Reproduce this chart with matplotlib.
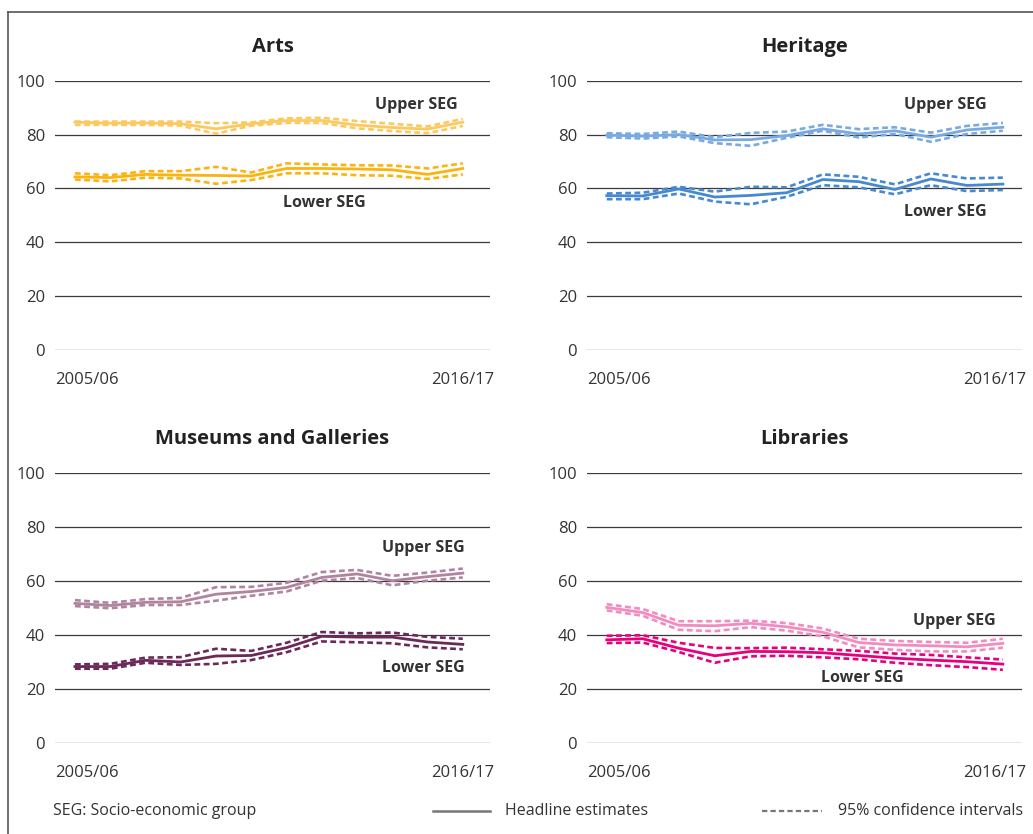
import matplotlib.pyplot as plt
import numpy as np

plt.rcParams['font.family'] = ['Open Sans', 'DejaVu Sans']

years = ['2005/06', '2006/07', '2007/08', '2008/09', '2009/10', '2010/11',
         '2011/12', '2012/13', '2013/14', '2014/15', '2015/16', '2016/17']

# Arts
arts_up = [84.6, 84.2, 84.3, 84.0, 82.1, 84.0, 85.2, 85.2, 83.5, 82.6, 82.0, 84.6]
arts_up_hi = [84.8, 84.8, 84.8, 84.8, 84.2, 84.5, 86.0, 86.2, 85.0, 84.0, 83.0, 85.8]
arts_up_lo = [83.6, 83.6, 83.6, 83.3, 80.3, 83.3, 84.3, 84.3, 82.3, 81.3, 80.5, 83.2]
arts_low = [64.3, 64.0, 65.2, 64.9, 64.8, 64.6, 67.4, 67.4, 67.2, 66.9, 65.2, 67.4]
arts_low_hi = [65.6, 64.9, 66.4, 66.4, 68.0, 65.9, 69.3, 68.9, 68.6, 68.5, 67.4, 69.3]
arts_low_lo = [63.3, 62.6, 64.0, 63.7, 61.7, 63.1, 65.6, 65.6, 64.9, 64.7, 63.5, 65.2]

# Heritage
her_up = [79.8, 79.4, 80.0, 78.0, 78.1, 79.6, 82.1, 80.2, 81.4, 79.0, 81.7, 82.7]
her_up_hi = [80.5, 80.2, 81.1, 79.0, 80.6, 81.1, 83.6, 82.0, 82.7, 80.7, 83.2, 84.3]
her_up_lo = [79.0, 78.5, 79.3, 76.8, 75.8, 78.8, 81.4, 78.9, 80.2, 77.3, 80.2, 81.4]
her_low = [57.3, 57.2, 59.8, 56.8, 57.4, 58.4, 63.3, 62.5, 59.6, 63.5, 61.1, 61.6]
her_low_hi = [58.1, 58.4, 60.6, 58.8, 60.6, 60.4, 65.2, 64.3, 61.5, 65.6, 63.7, 64.0]
her_low_lo = [56.0, 56.0, 58.1, 55.1, 54.1, 56.9, 61.2, 60.4, 57.8, 61.2, 59.0, 59.4]

# Museums and Galleries
mus_up = [51.6, 50.8, 52.0, 52.2, 55.0, 56.0, 57.5, 61.2, 62.5, 60.0, 61.5, 62.8]
mus_up_hi = [52.8, 51.8, 53.2, 53.6, 57.6, 57.7, 59.2, 63.2, 64.0, 61.8, 63.0, 64.5]
mus_up_lo = [50.6, 49.8, 51.0, 51.0, 52.6, 54.4, 56.0, 60.0, 61.0, 58.3, 60.0, 61.2]
mus_low = [28.2, 28.2, 30.5, 29.9, 32.1, 32.3, 35.2, 39.4, 39.1, 39.1, 37.3, 36.4]
mus_low_hi = [29.0, 29.2, 31.5, 31.7, 34.8, 34.0, 37.0, 41.0, 40.5, 40.8, 39.2, 38.5]
mus_low_lo = [27.4, 27.4, 29.6, 28.8, 29.2, 30.6, 33.5, 37.5, 37.2, 36.8, 35.3, 34.6]

# Libraries
lib_up = [50.1, 48.2, 43.5, 43.3, 44.2, 42.9, 40.9, 37.1, 36.2, 35.9, 35.5, 36.8]
lib_up_hi = [51.3, 49.5, 45.0, 45.0, 45.2, 44.3, 42.3, 38.5, 37.7, 37.3, 37.0, 38.5]
lib_up_lo = [49.0, 47.0, 41.8, 41.3, 42.8, 41.5, 39.4, 35.3, 34.4, 33.8, 33.8, 35.2]
lib_low = [38.1, 38.5, 35.0, 32.2, 33.8, 33.7, 33.3, 32.3, 31.3, 30.6, 30.0, 29.1]
lib_low_hi = [39.6, 39.8, 37.0, 35.1, 35.0, 35.2, 34.6, 34.0, 33.0, 32.5, 31.6, 30.8]
lib_low_lo = [36.9, 37.1, 33.6, 29.6, 32.0, 32.2, 31.6, 30.9, 29.6, 28.7, 28.0, 27.0]

panels = [
    # title, data, colours, axes rect, xlim, label positions
    ('Arts', (arts_up, arts_up_hi, arts_up_lo, arts_low, arts_low_hi, arts_low_lo),
     ('#fcc95e', '#fbb40f'), [0.0532, 0.5803, 0.4211, 0.3230], (-0.567, 11.77),
     (9.67, 91.1), (7.06, 54.4)),
    ('Heritage', (her_up, her_up_hi, her_up_lo, her_low, her_low_hi, her_low_lo),
     ('#79aadf', '#4689d0'), [0.5682, 0.5803, 0.4211, 0.3230], (-0.55, 11.53),
     (9.39, 91.1), (9.39, 51.1)),
    ('Museums and Galleries', (mus_up, mus_up_hi, mus_up_lo, mus_low, mus_low_hi, mus_low_lo),
     ('#b0849e', '#6b2958'), [0.0532, 0.1095, 0.4211, 0.3237], (-0.567, 11.77),
     (9.87, 72.1), (9.87, 27.7)),
    ('Libraries', (lib_up, lib_up_hi, lib_up_lo, lib_low, lib_low_hi, lib_low_lo),
     ('#f28cc0', '#e5007d'), [0.5682, 0.1095, 0.4211, 0.3237], (-0.55, 11.53),
     (9.64, 45.1), (7.11, 24.0)),
]

fig = plt.figure(figsize=(10.33, 8.34), dpi=100)

x = np.arange(len(years))
for title, d, cols, rect, xl, up_pos, low_pos in panels:
    ax = fig.add_axes(rect)
    up, up_hi, up_lo, low, low_hi, low_lo = d
    c_up, c_low = cols
    for s, c in [(up_hi, c_up), (up_lo, c_up), (low_hi, c_low), (low_lo, c_low)]:
        ax.plot(x, s, color=c, lw=1.9, linestyle=(0, (2.2, 1.3)), zorder=3)
    ax.plot(x, up, color=c_up, lw=2.0, zorder=4)
    ax.plot(x, low, color=c_low, lw=2.0, zorder=4)

    ax.set_xlim(*xl)
    ax.set_ylim(0, 100)
    ax.set_yticks(range(0, 101, 20))
    ax.set_xticks([])
    ax.grid(axis='y', color='#3a3a3a', lw=0.9, zorder=1)
    for sp in ax.spines.values():
        sp.set_visible(False)
    ax.tick_params(axis='y', length=0, pad=7, labelsize=12, labelcolor='#333333')

    ax.text(0, -0.112, years[0], transform=ax.transAxes, ha='left', va='center',
            fontsize=12, color='#333333')
    ax.text(1.01, -0.112, years[-1], transform=ax.transAxes, ha='right', va='center',
            fontsize=12, color='#333333')
    ax.text(0.5, 1.125, title, transform=ax.transAxes, ha='center', va='center',
            fontsize=14.5, fontweight='bold', color='#222222')
    ax.text(up_pos[0], up_pos[1], 'Upper SEG', ha='center', va='center',
            fontsize=11.5, fontweight='bold', color='#333333')
    ax.text(low_pos[0], low_pos[1], 'Lower SEG', ha='center', va='center',
            fontsize=11.5, fontweight='bold', color='#333333')

# frame (top and left edges)
fig.add_artist(plt.Line2D([8 / 1033, 8 / 1033], [0, 1 - 12 / 834], color='#555555', lw=1.2))
fig.add_artist(plt.Line2D([8 / 1033, 1], [1 - 12 / 834, 1 - 12 / 834], color='#555555', lw=1.2))

# footer
fy = 1 - 811 / 834
fig.text(53 / 1033, fy, 'SEG: Socio-economic group', ha='left', va='center',
         fontsize=11.5, color='#333333')
fig.add_artist(plt.Line2D([433 / 1033, 490 / 1033], [fy, fy], color='#777777', lw=1.8))
fig.text(505 / 1033, fy, 'Headline estimates', ha='left', va='center',
         fontsize=11.5, color='#333333')
fig.add_artist(plt.Line2D([762 / 1033, 822 / 1033], [fy, fy], color='#777777', lw=1.6,
                          linestyle=(0, (2.4, 1.4))))
fig.text(838 / 1033, fy, '95% confidence intervals', ha='left', va='center',
         fontsize=11.5, color='#333333')

fig.savefig('out.png', dpi=100)
